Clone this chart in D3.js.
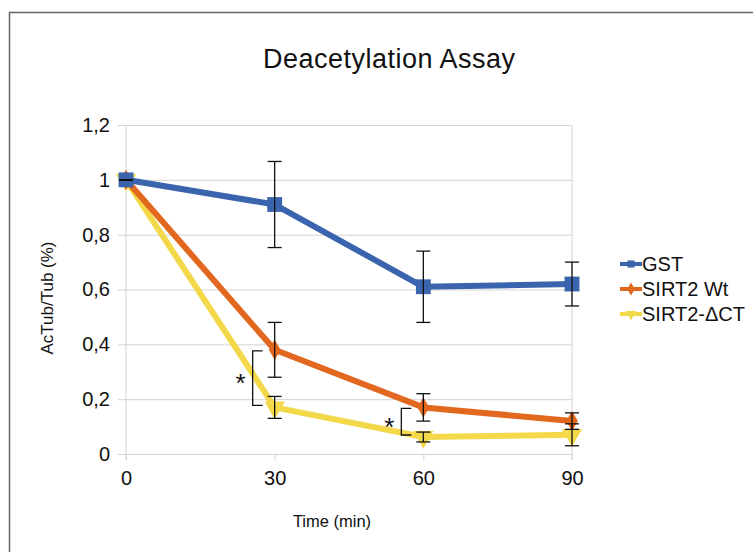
<meta charset="utf-8">
<head>
    <script src="https://cdn.jsdelivr.net/npm/d3@7/dist/d3.min.js"></script>
    <style>
        body { margin: 0; background: #fff; }
        text { font-family: "Liberation Sans", Arial, sans-serif; fill: #111; }
    </style>
</head>
<body>
    <svg width=753 height=552></svg>
</body>
<script>
    // data
    let times = [0, 30, 60, 90];
    let seriesNames = ["GST", "SIRT2 Wt", "SIRT2-ΔCT"];
    let gstValues = [1.0, 0.91, 0.61, 0.62];
    let gstErrors = [0, 0.157, 0.13, 0.08];
    let wtValues = [1.0, 0.38, 0.17, 0.12];
    let wtErrors = [0, 0.1, 0.05, 0.03];
    let dctValues = [1.0, 0.17, 0.062, 0.07];
    let dctErrors = [0, 0.04, 0.018, 0.04];
    let yTicks = [0, 0.2, 0.4, 0.6, 0.8, 1, 1.2];
    let sigTimes = [30, 60];   // Wt vs ΔCT, marked with *

    let colors = ["#3a64ad", "#e2671f", "#f3d94a"];
    let shapes = [d3.symbolSquare, d3.symbolDiamond, "tri"];
    let markerSizes = [220, 120, 180];

    let series = seriesNames.map(function (name, i) {
        let vals = [gstValues, wtValues, dctValues][i];
        let errs = [gstErrors, wtErrors, dctErrors][i];
        return {
            name: name,
            color: colors[i],
            shape: shapes[i],
            size: markerSizes[i],
            points: times.map(function (t, j) { return { t: t, v: vals[j], e: errs[j] }; })
        };
    });

    let x = d3.scaleLinear().domain([0, 90]).range([126, 572]);
    let y = d3.scaleLinear().domain([0, 1.2]).range([454, 125]);

    let svg = d3.select('svg');

    // outer frame
    svg.append("rect")
        .attr("x", 9.5).attr("y", 12.5)
        .attr("width", 800).attr("height", 600)
        .attr("fill", "none")
        .attr("stroke", "#666")
        .attr("stroke-width", 1.5);

    svg.append("text")
        .attr("x", 389).attr("y", 68)
        .attr("text-anchor", "middle")
        .attr("font-size", 27)
        .attr("textLength", 252)
        .text("Deacetylation Assay");

    // gridlines + y axis
    let yAxis = d3.axisLeft(y).tickValues(yTicks)
        .tickSize(-(x.range()[1] - x.range()[0]))
        .tickPadding(16)
        .tickFormat(function (d) { return d3.format("~g")(d).replace(".", ","); });
    let gy = svg.append("g")
        .attr("transform", `translate(${x.range()[0]},0)`)
        .call(yAxis);
    gy.select(".domain").remove();
    gy.selectAll(".tick line").attr("stroke", "#d4d4d4").attr("x1", -8);
    gy.selectAll(".tick text").attr("font-size", 20).attr("fill", "#111");

    // vertical frame lines of plot area
    svg.append("line")
        .attr("x1", x(0)).attr("x2", x(0)).attr("y1", y(1.2)).attr("y2", y(0) + 6)
        .attr("stroke", "#d4d4d4");
    svg.append("line")
        .attr("x1", x(90)).attr("x2", x(90)).attr("y1", y(1.2)).attr("y2", y(0) + 6)
        .attr("stroke", "#d4d4d4");

    let xAxis = d3.axisBottom(x).tickValues(times).tickSize(6).tickPadding(11);
    let gx = svg.append("g")
        .attr("transform", `translate(0,${y(0)})`)
        .call(xAxis);
    gx.select(".domain").remove();
    gx.selectAll(".tick line").attr("stroke", "#d4d4d4");
    gx.selectAll(".tick text").attr("font-size", 20).attr("fill", "#111");

    svg.append("text")
        .attr("x", 332).attr("y", 527)
        .attr("text-anchor", "middle")
        .attr("font-size", 16.5)
        .text("Time (min)");

    svg.append("text")
        .attr("transform", "translate(53,298) rotate(-90)")
        .attr("text-anchor", "middle")
        .attr("font-size", 17)
        .text("AcTub/Tub (%)");

    function markerPath(shape, size) {
        if (shape === "tri") {
            return d3.symbol().type(d3.symbolTriangle).size(size)();
        }
        return d3.symbol().type(shape).size(size)();
    }

    let line = d3.line()
        .x(function (d) { return x(d.t); })
        .y(function (d) { return y(d.v); });

    // lines drawn back to front: yellow, orange, blue
    series.slice().reverse().forEach(function (s) {
        svg.append("path")
            .datum(s.points)
            .attr("fill", "none")
            .attr("stroke", s.color)
            .attr("stroke-width", 6)
            .attr("stroke-linejoin", "round")
            .attr("d", line);
        svg.selectAll(null)
            .data(s.points)
            .enter()
            .append("path")
            .attr("transform", function (d) {
                return `translate(${x(d.t)},${y(d.v)})` + (s.shape === "tri" ? " rotate(180)" : "");
            })
            .attr("fill", s.color)
            .attr("d", markerPath(s.shape, s.size));
    });

    // error bars
    series.forEach(function (s) {
        let eb = svg.selectAll(null)
            .data(s.points)
            .enter()
            .append("g")
            .attr("stroke", "#111")
            .attr("stroke-width", 1.3);
        eb.append("line")
            .attr("x1", function (d) { return x(d.t); })
            .attr("x2", function (d) { return x(d.t); })
            .attr("y1", function (d) { return y(d.v + d.e); })
            .attr("y2", function (d) { return y(d.v - d.e); });
        [1, -1].forEach(function (sign) {
            eb.append("line")
                .attr("x1", function (d) { return x(d.t) - 7; })
                .attr("x2", function (d) { return x(d.t) + 7; })
                .attr("y1", function (d) { return y(d.v + sign * d.e); })
                .attr("y2", function (d) { return y(d.v + sign * d.e); });
        });
    });

    // significance brackets
    sigTimes.forEach(function (t) {
        let j = times.indexOf(t);
        let top = y(wtValues[j]) + 1;
        let bot = y(dctValues[j]) - 2;
        let bx = x(t) - 22;
        svg.append("path")
            .attr("d", `M${bx + 10},${top}H${bx}V${bot}H${bx + 10}`)
            .attr("fill", "none")
            .attr("stroke", "#111")
            .attr("stroke-width", 1.3);
        svg.append("text")
            .attr("x", bx - 12).attr("y", (top + bot) / 2 + 14)
            .attr("text-anchor", "middle")
            .attr("font-size", 26)
            .text("*");
    });

    // legend
    let legend = svg.selectAll(".legend")
        .data(series)
        .enter()
        .append("g")
        .attr("transform", function (d, i) { return `translate(620,${264 + i * 25})`; });
    legend.append("line")
        .attr("x1", 0).attr("x2", 22)
        .attr("stroke", function (d) { return d.color; })
        .attr("stroke-width", 4);
    legend.append("path")
        .attr("transform", function (d) { return "translate(11,0)" + (d.shape === "tri" ? " rotate(180)" : ""); })
        .attr("fill", function (d) { return d.color; })
        .attr("d", function (d) { return markerPath(d.shape, 50); });
    legend.append("text")
        .attr("x", 22).attr("y", 7)
        .attr("font-size", 20)
        .text(function (d) { return d.name; });
</script>
